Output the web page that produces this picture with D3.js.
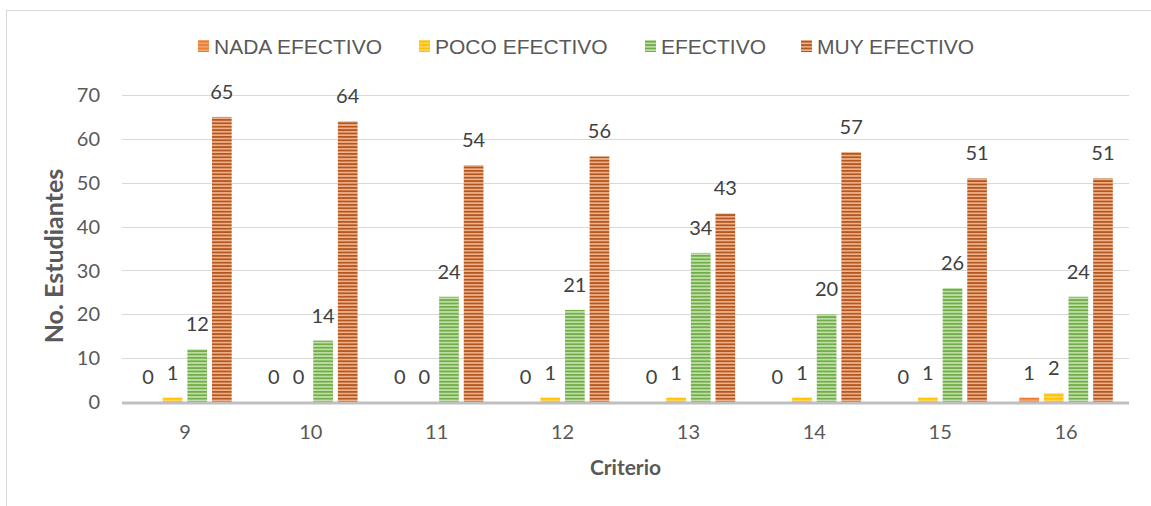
<!DOCTYPE html>
<html>
<head>
<meta charset="utf-8">
<script src="https://cdn.jsdelivr.net/npm/d3@7"></script>
<style>
  html, body { margin: 0; padding: 0; background: #fff; }
  svg { display: block; }
</style>
</head>
<body>
<svg id="chart" width="1151" height="506"></svg>
<script>
// Criteria evaluated (x categories)
const criterios = ["9", "10", "11", "12", "13", "14", "15", "16"];

// Students per rating
const nadaEfectivo  = [0, 0, 0, 0, 0, 0, 0, 1];
const pocoEfectivo  = [1, 0, 0, 1, 1, 1, 1, 2];
const efectivo      = [12, 14, 24, 21, 34, 20, 26, 24];
const muyEfectivo   = [65, 64, 54, 56, 43, 57, 51, 51];

const seriesNames = ["NADA EFECTIVO", "POCO EFECTIVO", "EFECTIVO", "MUY EFECTIVO"];
const yTicks = [0, 10, 20, 30, 40, 50, 60, 70];

const seriesValues = [nadaEfectivo, pocoEfectivo, efectivo, muyEfectivo];
const stripeColors = [
  ["#ed7d31", "#f4a672"],
  ["#ffc000", "#ffd65c"],
  ["#70ad47", "#c3e1ad"],
  ["#b4561f", "#f0b58e"]
];

const svg = d3.select("#chart");
const plot = { left: 122, right: 1129, top: 95, bottom: 402 };

// Outer chart frame
svg.append("rect")
  .attr("x", 6.5).attr("y", 10.5)
  .attr("width", 1150).attr("height", 500)
  .attr("fill", "#fff").attr("stroke", "#d9d9d9").attr("stroke-width", 1);

// Striped fills
const defs = svg.append("defs");
stripeColors.forEach((c, i) => {
  const p = defs.append("pattern")
    .attr("id", "stripe" + i)
    .attr("patternUnits", "userSpaceOnUse")
    .attr("width", 8).attr("height", 3.4);
  p.append("rect").attr("width", 8).attr("height", 3.4).attr("fill", c[0]);
  p.append("rect").attr("y", 1.8).attr("width", 8).attr("height", 1.6).attr("fill", c[1]);
});

const x0 = d3.scaleBand().domain(criterios).range([plot.left, plot.right]).paddingInner(0).paddingOuter(0);
const x1 = d3.scaleBand().domain(d3.range(4)).range([x0.bandwidth() * 0.111, x0.bandwidth() * 0.889]).paddingInner(0.2).paddingOuter(0.09);
const y = d3.scaleLinear().domain([0, 70]).range([plot.bottom, plot.top]);

// Horizontal gridlines
svg.append("g").selectAll("line")
  .data(yTicks.filter(t => t > 0))
  .join("line")
  .attr("x1", plot.left).attr("x2", plot.right)
  .attr("y1", d => Math.round(y(d)) + 0.5).attr("y2", d => Math.round(y(d)) + 0.5)
  .attr("stroke", "#d9d9d9").attr("stroke-width", 1);

// Y tick labels
svg.append("g").selectAll("text")
  .data(yTicks)
  .join("text")
  .attr("x", 100).attr("y", d => y(d))
  .attr("dy", "0.36em")
  .attr("text-anchor", "end")
  .attr("font-family", "Lato, 'Open Sans', sans-serif")
  .attr("font-size", 20)
  .attr("fill", "#595959")
  .text(d => d);

// Bars
const groups = svg.append("g").selectAll("g")
  .data(criterios)
  .join("g")
  .attr("transform", d => `translate(${x0(d)},0)`);

groups.selectAll("rect")
  .data((d, i) => seriesValues.map((s, k) => ({ k, v: s[i] })))
  .join("rect")
  .attr("x", d => x1(d.k))
  .attr("width", x1.bandwidth())
  .attr("y", d => y(d.v))
  .attr("height", d => y(0) - y(d.v))
  .attr("fill", d => `url(#stripe${d.k})`);

// Value labels
groups.selectAll("text")
  .data((d, i) => seriesValues.map((s, k) => ({ k, v: s[i] })))
  .join("text")
  .attr("x", d => x1(d.k) + x1.bandwidth() / 2)
  .attr("y", d => y(d.v) - 18)
  .attr("text-anchor", "middle")
  .attr("font-family", "Lato, 'Open Sans', sans-serif")
  .attr("font-size", 20)
  .attr("fill", "#404040")
  .text(d => d.v);

// Category axis line
svg.append("line")
  .attr("x1", plot.left).attr("x2", plot.right)
  .attr("y1", y(0) + 1).attr("y2", y(0) + 1)
  .attr("stroke", "#bfbfbf").attr("stroke-width", 3);

// X tick labels
svg.append("g").selectAll("text")
  .data(criterios)
  .join("text")
  .attr("x", d => x0(d) + x0.bandwidth() / 2)
  .attr("y", 432).attr("dy", "0.36em")
  .attr("text-anchor", "middle")
  .attr("font-family", "Lato, 'Open Sans', sans-serif")
  .attr("font-size", 20)
  .attr("fill", "#595959")
  .text(d => d);

// Axis titles
svg.append("text")
  .attr("x", (plot.left + plot.right) / 2).attr("y", 467).attr("dy", "0.36em")
  .attr("text-anchor", "middle")
  .attr("font-family", "Lato, 'Open Sans', sans-serif")
  .attr("font-weight", "bold").attr("font-size", 21)
  .attr("fill", "#595959")
  .text("Criterio");

svg.append("text")
  .attr("transform", "translate(54,256) rotate(-90)")
  .attr("dy", "0.36em")
  .attr("text-anchor", "middle")
  .attr("font-family", "Lato, 'Open Sans', sans-serif")
  .attr("font-weight", "bold").attr("font-size", 25)
  .attr("fill", "#595959")
  .text("No. Estudiantes");

// Legend
const legendX = [198, 419, 645, 801];
const legend = svg.append("g").selectAll("g")
  .data(seriesNames)
  .join("g")
  .attr("transform", (d, i) => `translate(${legendX[i]},0)`);
legend.append("rect")
  .attr("x", 0).attr("y", 40).attr("width", 11).attr("height", 12)
  .attr("fill", (d, i) => `url(#stripe${i})`);
legend.append("text")
  .attr("x", 16).attr("y", 46).attr("dy", "0.36em")
  .attr("font-family", "'Liberation Sans', Arial, sans-serif")
  .attr("font-size", 21)
  .attr("fill", "#595959")
  .text(d => d);
</script>
</body>
</html>
